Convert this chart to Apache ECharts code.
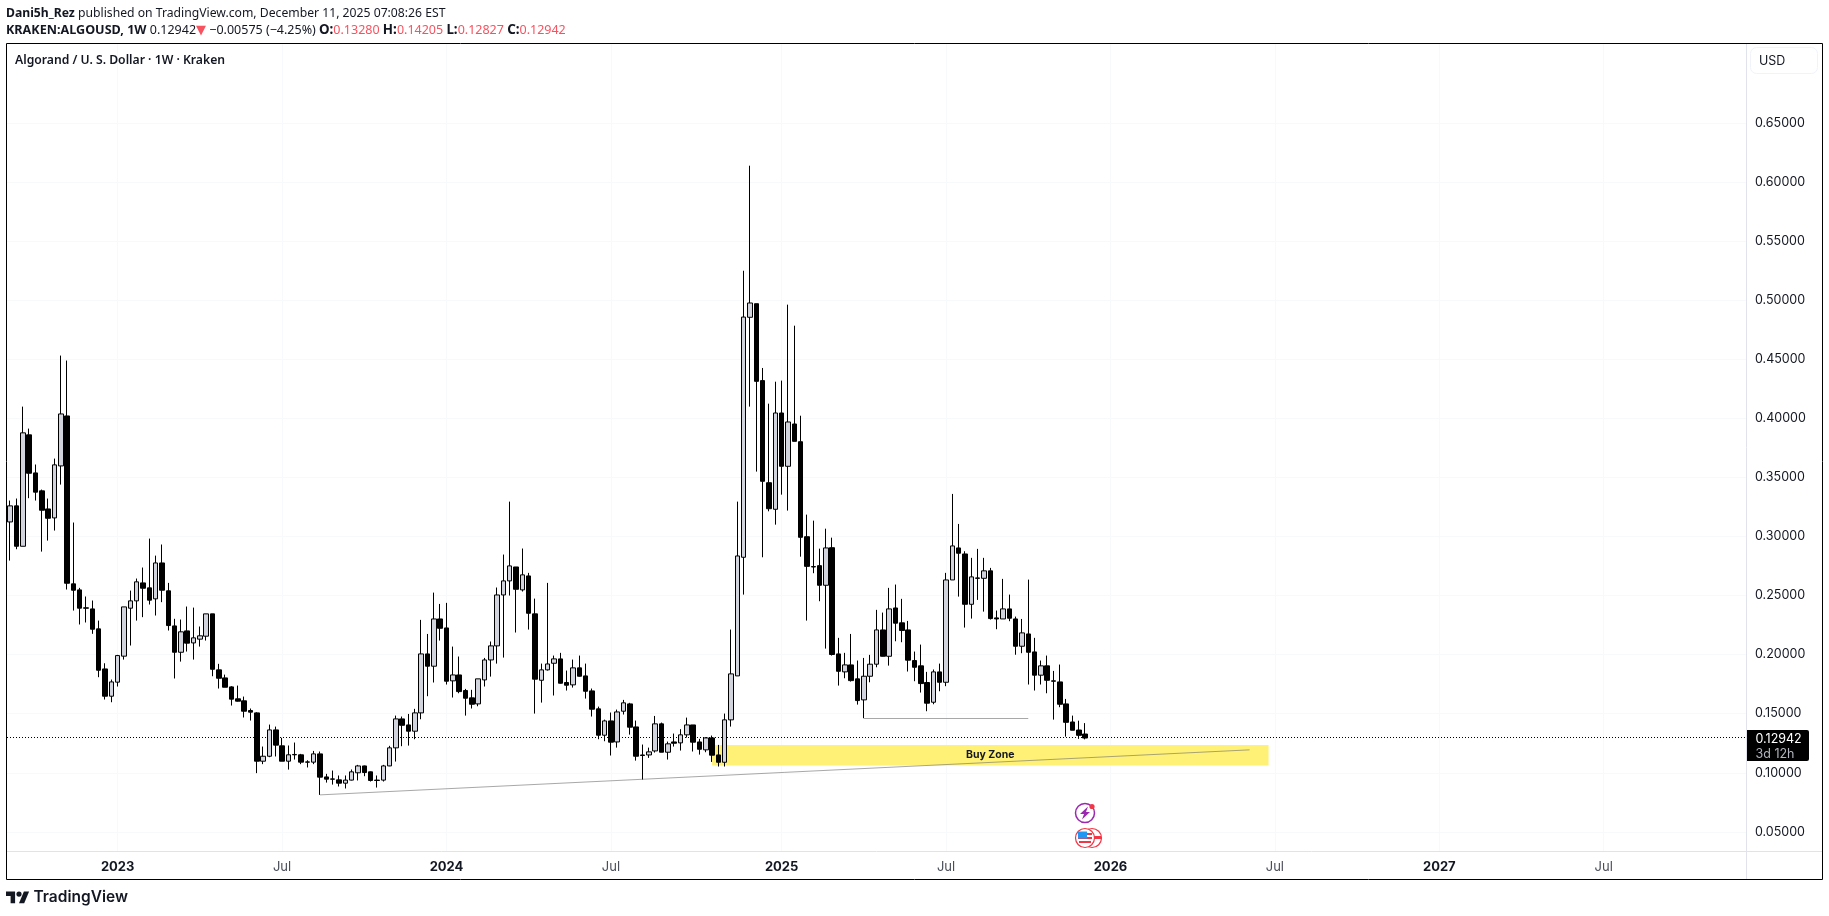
<!DOCTYPE html>
<html>
<head>
<meta charset="utf-8">
<title>ALGOUSD 1W</title>
<script src="https://cdn.jsdelivr.net/npm/echarts@6/dist/echarts.min.js"></script>
<style>
  html, body { margin: 0; padding: 0; background: #fff; }
  #chart { width: 1829px; height: 916px; }
</style>
</head>
<body>
<div id="chart"></div>
<script>
// weekly candles
const weeks = [
  '2022-09-05','2022-09-12','2022-09-19','2022-09-26','2022-10-03','2022-10-10','2022-10-17','2022-10-24','2022-10-31','2022-11-07','2022-11-14','2022-11-21','2022-11-28',
  '2022-12-05','2022-12-12','2022-12-19','2022-12-26','2023-01-02','2023-01-09','2023-01-16','2023-01-23','2023-01-30','2023-02-06','2023-02-13','2023-02-20','2023-02-27',
  '2023-03-06','2023-03-13','2023-03-20','2023-03-27','2023-04-03','2023-04-10','2023-04-17','2023-04-24','2023-05-01','2023-05-08','2023-05-15','2023-05-22','2023-05-29',
  '2023-06-05','2023-06-12','2023-06-19','2023-06-26','2023-07-03','2023-07-10','2023-07-17','2023-07-24','2023-07-31','2023-08-07','2023-08-14','2023-08-21','2023-08-28',
  '2023-09-04','2023-09-11','2023-09-18','2023-09-25','2023-10-02','2023-10-09','2023-10-16','2023-10-23','2023-10-30','2023-11-06','2023-11-13','2023-11-20','2023-11-27',
  '2023-12-04','2023-12-11','2023-12-18','2023-12-25','2024-01-01','2024-01-08','2024-01-15','2024-01-22','2024-01-29','2024-02-05','2024-02-12','2024-02-19','2024-02-26',
  '2024-03-04','2024-03-11','2024-03-18','2024-03-25','2024-04-01','2024-04-08','2024-04-15','2024-04-22','2024-04-29','2024-05-06','2024-05-13','2024-05-20','2024-05-27',
  '2024-06-03','2024-06-10','2024-06-17','2024-06-24','2024-07-01','2024-07-08','2024-07-15','2024-07-22','2024-07-29','2024-08-05','2024-08-12','2024-08-19','2024-08-26',
  '2024-09-02','2024-09-09','2024-09-16','2024-09-23','2024-09-30','2024-10-07','2024-10-14','2024-10-21','2024-10-28','2024-11-04','2024-11-11','2024-11-18','2024-11-25',
  '2024-12-02','2024-12-09','2024-12-16','2024-12-23','2024-12-30','2025-01-06','2025-01-13','2025-01-20','2025-01-27','2025-02-03','2025-02-10','2025-02-17','2025-02-24',
  '2025-03-03','2025-03-10','2025-03-17','2025-03-24','2025-03-31','2025-04-07','2025-04-14','2025-04-21','2025-04-28','2025-05-05','2025-05-12','2025-05-19','2025-05-26',
  '2025-06-02','2025-06-09','2025-06-16','2025-06-23','2025-06-30','2025-07-07','2025-07-14','2025-07-21','2025-07-28','2025-08-04','2025-08-11','2025-08-18','2025-08-25',
  '2025-09-01','2025-09-08','2025-09-15','2025-09-22','2025-09-29','2025-10-06','2025-10-13','2025-10-20','2025-10-27','2025-11-03','2025-11-10','2025-11-17','2025-11-24',
  '2025-12-01','2025-12-08'
];
// empty weeks to the right of the last candle
const futureWeeks = [
  '2025-12-15','2025-12-22','2025-12-29','2026-01-05','2026-01-12','2026-01-19','2026-01-26','2026-02-02','2026-02-09','2026-02-16','2026-02-23','2026-03-02','2026-03-09',
  '2026-03-16','2026-03-23','2026-03-30','2026-04-06','2026-04-13','2026-04-20','2026-04-27','2026-05-04','2026-05-11','2026-05-18','2026-05-25','2026-06-01','2026-06-08',
  '2026-06-15','2026-06-22','2026-06-29','2026-07-06','2026-07-13','2026-07-20','2026-07-27','2026-08-03','2026-08-10','2026-08-17','2026-08-24','2026-08-31','2026-09-07',
  '2026-09-14','2026-09-21','2026-09-28','2026-10-05','2026-10-12','2026-10-19','2026-10-26','2026-11-02','2026-11-09','2026-11-16','2026-11-23','2026-11-30','2026-12-07',
  '2026-12-14','2026-12-21','2026-12-28','2027-01-04','2027-01-11','2027-01-18','2027-01-25','2027-02-01','2027-02-08','2027-02-15','2027-02-22','2027-03-01','2027-03-08',
  '2027-03-15','2027-03-22','2027-03-29','2027-04-05','2027-04-12','2027-04-19','2027-04-26','2027-05-03','2027-05-10','2027-05-17','2027-05-24','2027-05-31','2027-06-07',
  '2027-06-14','2027-06-21','2027-06-28','2027-07-05','2027-07-12','2027-07-19','2027-07-26','2027-08-02','2027-08-09','2027-08-16','2027-08-23','2027-08-30','2027-09-06',
  '2027-09-13','2027-09-20','2027-09-27','2027-10-04','2027-10-11','2027-10-18','2027-10-25','2027-11-01','2027-11-08','2027-11-15','2027-11-22','2027-11-29','2027-12-06'
];

const opens = [
  .3123,.3259,.2917,.3860,.3538,.3386,.3233,.3157,.3597,.4020,
  .2599,.2548,.2396,.2387,.2218,.1879,.1648,.1767,.1987,.2393,
  .2455,.2607,.2565,.2472,.2776,.2540,.2243,.2020,.2201,.2099,
  .2131,.2156,.2345,.1871,.1803,.1727,.1626,.1609,.1527,.1507,
  .1098,.1140,.1363,.1228,.1098,.1155,.1152,.1092,.1090,.1160,
  .0965,.0948,.0940,.0912,.0938,.1000,.1058,.1008,.0938,.0938,
  .1058,.1211,.1456,.1405,.1352,.1507,.2006,.1902,.2302,.2226,
  .1778,.1828,.1696,.1634,.1583,.1786,.1955,.2074,.2505,.2624,
  .2742,.2548,.2666,.2345,.1783,.1871,.1927,.1964,.1764,.1744,
  .1888,.1820,.1693,.1541,.1318,.1439,.1261,.1521,.1583,.1388,
  .1151,.1151,.1185,.1414,.1174,.1261,.1253,.1321,.1405,.1261,
  .1194,.1295,.1151,.1089,.1448,.1820,.2824,.4855,.4970,.4319,
  .3455,.3230,.4045,.3594,.3952,.3802,.2998,.2745,.2753,.2587,
  .2905,.2006,.1854,.1913,.1795,.1617,.1817,.1919,.2209,.1986,
  .2395,.2269,.2209,.1950,.1905,.1764,.1597,.1854,.1766,.2632,
  .2903,.2852,.2426,.2649,.2646,.2709,.2311,.2302,.2387,.2302,
  .2071,.2175,.2023,.1826,.1905,.1778,.1769,.1583,.1430,.1362,.1328
];
const closes = [
  .3259,.2917,.3877,.3535,.3375,.3222,.3154,.3606,.4037,.2604,
  .2545,.2393,.2393,.2215,.1868,.1648,.1769,.1992,.2404,.2455,
  .2616,.2562,.2461,.2776,.2545,.2246,.2020,.2193,.2097,.2142,
  .2159,.2345,.1876,.1800,.1724,.1623,.1606,.1521,.1513,.1098,
  .1140,.1363,.1234,.1098,.1152,.1152,.1090,.1090,.1160,.0963,
  .0946,.0946,.0912,.0938,.1008,.1058,.1002,.0935,.0935,.1058,
  .1211,.1456,.1402,.1352,.1507,.2006,.1902,.2302,.2223,.1775,
  .1828,.1687,.1631,.1580,.1795,.1955,.2074,.2505,.2624,.2751,
  .2553,.2675,.2350,.1792,.1871,.1921,.1964,.1758,.1741,.1888,
  .1817,.1690,.1538,.1318,.1439,.1259,.1515,.1592,.1386,.1140,
  .1146,.1177,.1414,.1174,.1245,.1250,.1321,.1405,.1259,.1199,
  .1295,.1149,.1089,.1448,.1837,.2835,.4857,.4976,.4313,.3467,
  .3235,.4045,.3594,.3969,.3805,.2993,.2747,.2742,.2587,.2903,
  .2001,.1859,.1913,.1780,.1611,.1817,.1919,.2209,.1986,.2387,
  .2266,.2204,.1953,.1893,.1755,.1589,.1854,.1766,.2632,.2920,
  .2858,.2426,.2658,.2646,.2709,.2305,.2302,.2387,.2308,.2071,
  .2184,.2020,.1826,.1905,.1783,.1775,.1580,.1427,.1360,.1317,.12942
];
const lows = [
  .2796,.2892,.2917,.3324,.3304,.2872,.2965,.3050,.3439,.2551,
  .2373,.2255,.2272,.2176,.1809,.1620,.1597,.1730,.1958,.2077,
  .2288,.2317,.2424,.2331,.2444,.2204,.1798,.1941,.2026,.1958,
  .2068,.2119,.1817,.1713,.1724,.1569,.1603,.1468,.1442,.0997,
  .1073,.1132,.1138,.1098,.1027,.1112,.1073,.1045,.1073,.0813,
  .0917,.0900,.0884,.0867,.0935,.0935,.0971,.0926,.0875,.0926,
  .1056,.1095,.1225,.1230,.1284,.1453,.1648,.1764,.2119,.1747,
  .1637,.1673,.1484,.1544,.1563,.1730,.1814,.1924,.1975,.2500,
  .2187,.2534,.2212,.1501,.1594,.1865,.1654,.1755,.1696,.1721,
  .1814,.1628,.1476,.1284,.1267,.1146,.1213,.1493,.1323,.1103,
  .0943,.1126,.1171,.1174,.1112,.1222,.1188,.1298,.1180,.1154,
  .1174,.1092,.1053,.1053,.1391,.1820,.2508,.4099,.3549,.2824,
  .3213,.3100,.3354,.3219,.3805,.2829,.2288,.2689,.2452,.2051,
  .1992,.1738,.1800,.1772,.1577,.1462,.1766,.1893,.1984,.1907,
  .2113,.2105,.1857,.1775,.1679,.1521,.1580,.1690,.1733,.2632,
  .2491,.2229,.2305,.2463,.2364,.2297,.2215,.2302,.2283,.1999,
  .2012,.1747,.1696,.1747,.1673,.1450,.1555,.1306,.1360,.1287,.12827
];
const highs = [
  .3304,.3321,.4099,.3913,.3609,.3397,.3321,.3659,.4531,.4489,
  .3118,.2565,.2492,.2458,.2288,.1927,.1789,.1998,.2404,.2542,
  .2644,.2737,.2982,.2838,.2932,.2607,.2303,.2297,.2407,.2398,
  .2238,.2345,.2345,.1922,.1831,.1733,.1738,.1645,.1544,.1513,
  .1222,.1408,.1391,.1296,.1231,.1256,.1160,.1106,.1185,.1180,
  .0991,.1019,.0977,.0977,.1028,.1067,.1061,.1011,.0977,.1067,
  .1228,.1484,.1476,.1498,.1541,.2294,.2175,.2525,.2429,.2438,
  .2068,.1984,.1710,.1702,.1795,.1972,.2111,.2568,.2847,.3295,
  .2742,.2898,.2692,.2474,.1924,.2607,.1992,.2015,.1865,.1958,
  .1992,.1924,.1713,.1560,.1450,.1510,.1535,.1617,.1592,.1442,
  .1239,.1213,.1481,.1425,.1264,.1332,.1369,.1467,.1405,.1287,
  .1301,.1315,.1236,.1501,.2212,.3295,.5249,.6138,.4970,.4426,
  .4124,.4310,.4319,.4962,.4784,.4022,.3185,.3134,.2897,.3066,
  .2990,.2142,.2015,.2175,.1950,.1972,.1998,.2379,.2356,.2565,
  .2593,.2472,.2285,.2026,.2085,.1854,.1874,.1924,.2692,.3360,
  .3106,.2875,.2819,.2895,.2819,.2734,.2373,.2641,.2508,.2322,
  .2302,.2635,.2142,.1950,.1992,.1862,.1916,.1625,.1484,.1441,.14205
];

const tickWeeks  = ['2023-01-02','2023-07-03','2024-01-01','2024-07-01','2025-01-06','2025-07-07','2026-01-05','2026-07-06','2027-01-04','2027-07-05'];
const tickLabels = ['2023','Jul','2024','Jul','2025','Jul','2026','Jul','2027','Jul'];
const priceTicks = [0.05,0.10,0.15,0.20,0.25,0.30,0.35,0.40,0.45,0.50,0.55,0.60,0.65];

const lastPrice = 0.12942;
const buyZone = { from: '2024-10-21', to: '2026-06-29', top: 0.1236, bottom: 0.1062, label: 'Buy Zone' };
const risingLine = [['2023-08-14', 0.0813], ['2026-06-08', 0.1194]];
const flatLine = [['2025-04-07', 0.1462], ['2025-10-06', 0.1462]];

const uiFont = 'Inter, "Noto Sans", sans-serif';
const headFont = '"Noto Sans", sans-serif';
const ink = '#131722';
const red = '#f7525f';
const axisGrey = '#e0e3eb';
const faint = '#f8f9fa';

const candles = opens.map((o, i) => [o, closes[i], lows[i], highs[i]]);

var myChart = echarts.init(document.getElementById('chart'));

var option = {
    animation: false,
    backgroundColor: '#fff',
    title: [
        {
            left: 6, top: 8, padding: 0,
            text: '{b|Dani5h_Rez} published on TradingView.com, December 11, 2025 07:08:26 EST',
            textStyle: {
                fontFamily: headFont, fontSize: 12.2, fontWeight: 'normal', color: ink,
                rich: { b: { fontFamily: headFont, fontSize: 12.2, fontWeight: 'bold', color: ink } }
            }
        },
        {
            left: 6, top: 24, padding: 0,
            text: '{k|KRAKEN:ALGOUSD, 1W} 0.12942{t|▼} −0.00575 (−4.25%) {b|O:}{r|0.13280} {b|H:}{r|0.14205} {b|L:}{r|0.12827} {b|C:}{r|0.12942}',
            textStyle: {
                fontFamily: headFont, fontSize: 12.5, fontWeight: 'normal', color: ink,
                rich: {
                    k: { fontFamily: headFont, fontSize: 12.6, fontWeight: 'bold', color: ink },
                    b: { fontFamily: headFont, fontSize: 13.4, fontWeight: 'bold', color: ink },
                    r: { fontFamily: headFont, fontSize: 12.5, color: red },
                    t: { fontFamily: 'DejaVu Sans', fontSize: 13, color: red }
                }
            }
        },
        {
            left: 15, top: 55, padding: 0,
            text: 'Algorand / U. S. Dollar · 1W · Kraken',
            textStyle: { fontFamily: headFont, fontSize: 12.2, fontWeight: 600, color: ink }
        }
    ],
    grid: { left: 7, right: 83, top: 44, bottom: 65 },
    xAxis: {
        type: 'category',
        data: weeks.concat(futureWeeks),
        axisLine: { show: true, lineStyle: { color: axisGrey, width: 1 } },
        axisTick: { show: false },
        axisLabel: {
            margin: 10,
            interval: (i, v) => tickWeeks.includes(v),
            hideOverlap: false,
            formatter: (v) => {
                var label = tickLabels[tickWeeks.indexOf(v)];
                return label === 'Jul' ? '{m|' + label + '}' : '{y|' + label + '}';
            },
            rich: {
                y: { fontFamily: uiFont, fontSize: 13, fontWeight: 'bold', color: ink, letterSpacing: 0.5 },
                m: { fontFamily: uiFont, fontSize: 13, color: '#4a4e59' }
            }
        },
        splitLine: {
            show: true,
            alignWithLabel: true,
            interval: (i, v) => tickWeeks.includes(v),
            lineStyle: { color: faint, width: 1 }
        }
    },
    yAxis: {
        type: 'value',
        position: 'right',
        min: 0.0338,
        max: 0.7168,
        scale: true,
        axisLine: { show: true, onZero: false, lineStyle: { color: axisGrey, width: 1 } },
        axisTick: { show: false, customValues: priceTicks },
        axisLabel: {
            customValues: priceTicks,
            margin: 9,
            fontFamily: uiFont,
            fontSize: 12.5,
            color: ink,
            formatter: (v) => v.toFixed(5)
        },
        splitLine: { show: true, lineStyle: { color: faint, width: 1 } }
    },
    series: [
        {
            name: 'KRAKEN:ALGOUSD',
            type: 'candlestick',
            data: candles,
            barWidth: 5,
            z: 2,
            itemStyle: {
                color: '#d1d4dc',
                color0: '#000000',
                borderColor: '#000000',
                borderColor0: '#000000',
                borderColorDoji: '#000000',
                borderWidth: 1
            },
            markArea: {
                silent: true,
                z: 0,
                itemStyle: { color: '#fff176' },
                label: {
                    show: true, position: 'inside',
                    fontFamily: uiFont, fontSize: 10.5, fontWeight: 'bold', color: ink, letterSpacing: 0.3
                },
                data: [[
                    { name: buyZone.label, xAxis: buyZone.from, yAxis: buyZone.top },
                    { xAxis: buyZone.to, yAxis: buyZone.bottom }
                ]]
            },
            markLine: {
                silent: true,
                z: 1,
                symbol: 'none',
                label: { show: false },
                data: [
                    { yAxis: lastPrice, lineStyle: { color: '#000', type: [1, 2], width: 1 } },
                    [
                        { xAxis: risingLine[0][0], yAxis: risingLine[0][1], lineStyle: { color: 'rgba(110,110,110,0.6)', type: 'solid', width: 1 } },
                        { xAxis: risingLine[1][0], yAxis: risingLine[1][1] }
                    ],
                    [
                        { xAxis: flatLine[0][0], yAxis: flatLine[0][1], lineStyle: { color: 'rgba(110,110,110,0.6)', type: 'solid', width: 1 } },
                        { xAxis: flatLine[1][0], yAxis: flatLine[1][1] }
                    ]
                ]
            }
        }
    ]
};
myChart.setOption(option);

// frame, price tag, event icons and logo sit around the plot
var tagY = Math.round(myChart.convertToPixel({ yAxisIndex: 0 }, lastPrice));
var eventX = Math.round(myChart.convertToPixel({ xAxisIndex: 0 }, weeks[weeks.length - 1]));

function txt(x, y, text, font, size, weight, fill) {
    return { type: 'text', x: x, y: y, silent: true, style: {
        text: text, fontFamily: font, fontSize: size, fontWeight: weight, fill: fill, verticalAlign: 'middle'
    } };
}
function rect(x, y, w, h, fill, r) {
    return { type: 'rect', silent: true, shape: { x: x, y: y, width: w, height: h, r: r || 0 }, style: { fill: fill } };
}
function seg(x1, y1, x2, y2, color) {
    return { type: 'line', silent: true, shape: { x1: x1, y1: y1, x2: x2, y2: y2 }, style: { stroke: color, lineWidth: 1 } };
}
function ring(cx, cy, r, stroke, fill, lw) {
    return { type: 'circle', silent: true, shape: { cx: cx, cy: cy, r: r }, style: { stroke: stroke, fill: fill, lineWidth: lw } };
}
function poly(points, fill) {
    return { type: 'polygon', silent: true, shape: { points: points }, style: { fill: fill } };
}

var graphics = [
    { type: 'rect', silent: true, shape: { x: 6.5, y: 43.5, width: 1816, height: 836 }, style: { fill: 'none', stroke: '#000', lineWidth: 1 }, z: 20 },
    seg(1746.5, 851, 1746.5, 879, axisGrey),
    seg(1746, 851.5, 1822, 851.5, axisGrey),
    { type: 'rect', silent: true, shape: { x: 1750.5, y: 47.5, width: 67, height: 26, r: 6 }, style: { fill: '#fff', stroke: '#f0f3fa', lineWidth: 1 } },
    txt(1759, 61, 'USD', uiFont, 12.5, 'normal', ink),

    rect(1747, tagY - 8, 62, 31, '#000', [0, 2, 2, 0]),
    txt(1755.5, tagY + 1, lastPrice.toFixed(5), uiFont, 12.5, 'normal', '#fff'),
    txt(1755.5, tagY + 16, '3d 12h', uiFont, 12.5, 'normal', '#b2b5be'),

    // news / event markers under the last candle
    ring(eventX, 813, 9.5, '#9c27b0', '#fff', 1.5),
    poly([[eventX + 3, 806.5], [eventX - 5, 814], [eventX - 1, 814], [eventX - 3, 819.5], [eventX + 5, 812], [eventX + 1, 812]], '#9c27b0'),
    { type: 'circle', silent: true, shape: { cx: eventX + 7, cy: 806.5, r: 2.6 }, style: { fill: '#f23645' } },

    ring(eventX + 7, 838, 9.5, '#f23645', '#fff', 1.2),
    rect(eventX + 8, 836, 8, 3, '#f23645'),
    ring(eventX, 838, 9.5, '#f23645', '#fff', 1.2),
    rect(eventX - 5, 833, 12, 2, '#f23645'),
    rect(eventX - 7, 837, 14, 2, '#f23645'),
    rect(eventX - 6, 841, 12, 2, '#f23645'),
    rect(eventX - 7, 831.5, 9, 7, '#2196f3'),

    // TradingView logo
    poly([[6, 891.5], [15.1, 891.5], [15.1, 903.2], [10.6, 903.2], [10.6, 896], [6, 896]], ink),
    poly([[23.9, 891.5], [29.1, 891.5], [24.2, 903.2], [19, 903.2]], ink),
    { type: 'circle', silent: true, shape: { cx: 19, cy: 894.1, r: 2.6 }, style: { fill: ink } },
    txt(33.5, 897, 'TradingView', uiFont, 15.5, 600, ink)
];
myChart.setOption({ graphic: graphics });
</script>
</body>
</html>
